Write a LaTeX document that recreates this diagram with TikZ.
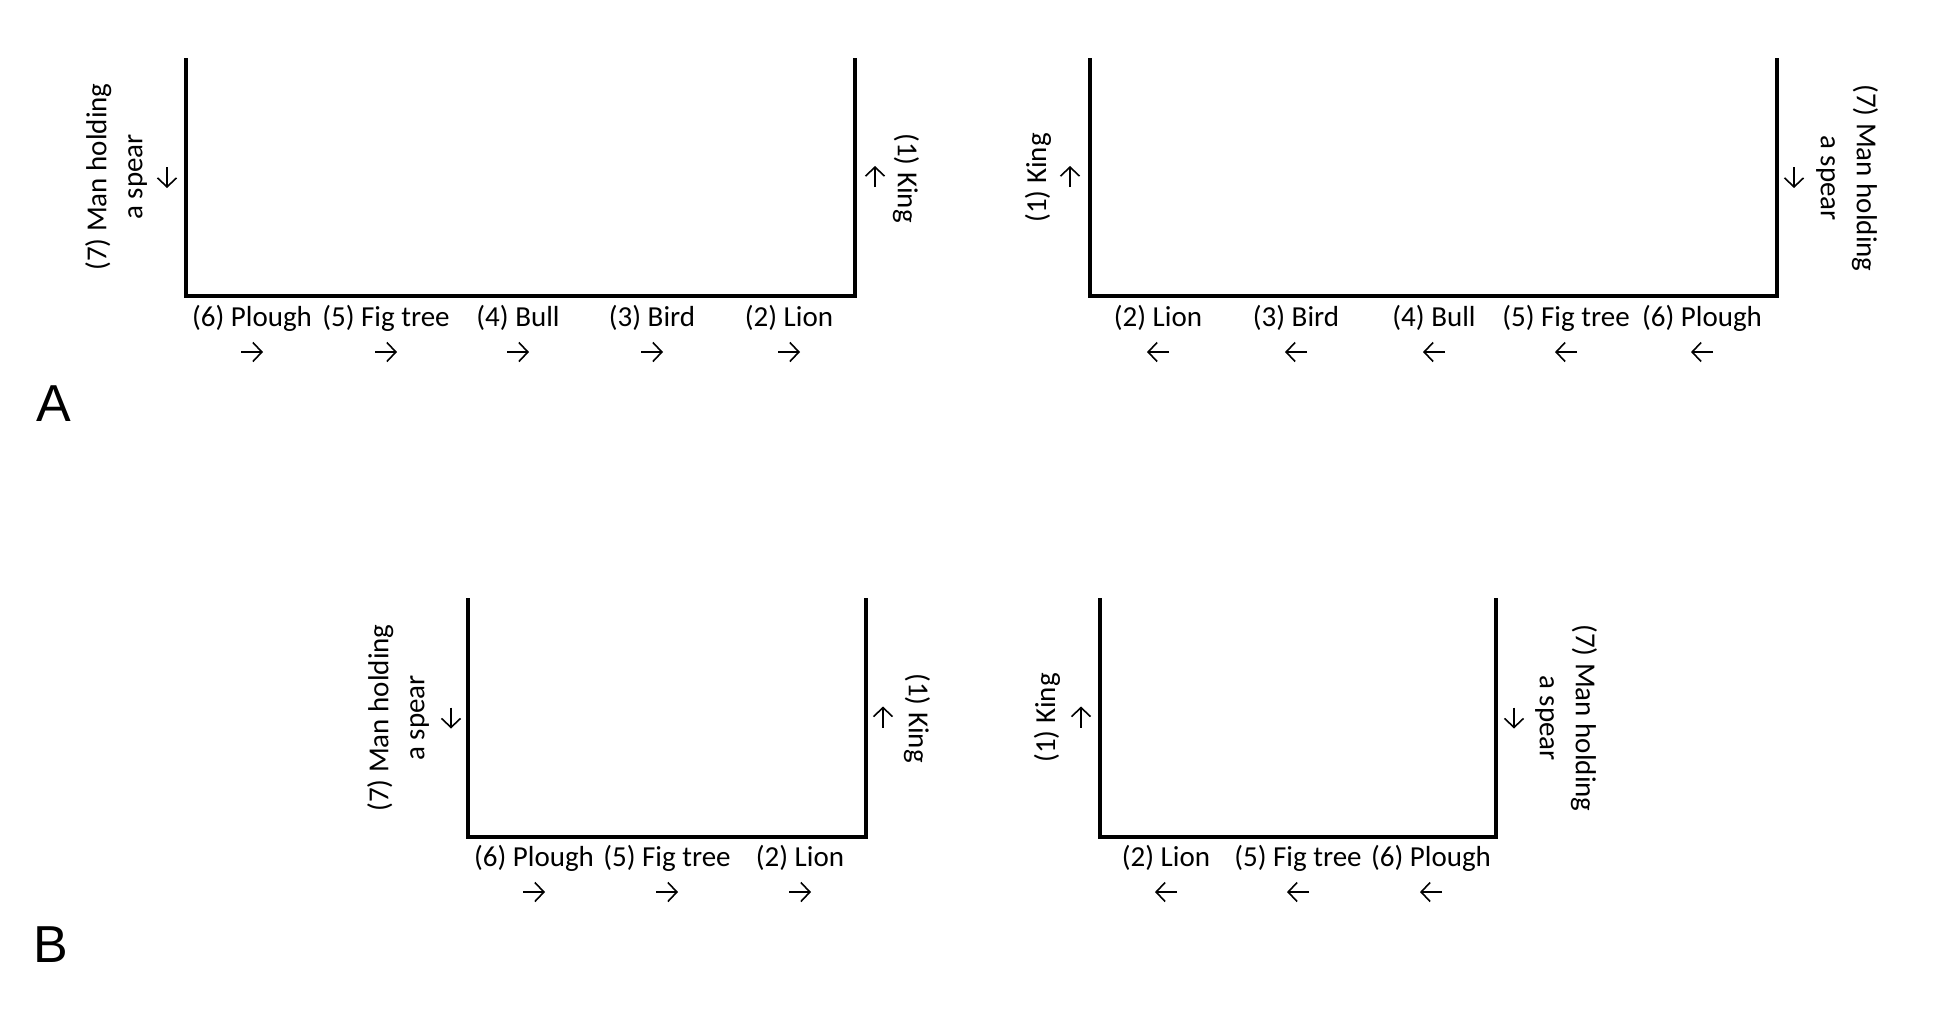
\documentclass[tikz,border=0pt]{standalone}
\usepackage{fontspec}
\setmainfont{Carlito}
\newfontfamily\letterfont{Liberation Sans}
\usetikzlibrary{arrows.meta,calc}
\begin{document}
\begin{tikzpicture}[x=1pt,y=-1pt,
  frame/.style={line width=3.2pt, line join=miter},
  lbl/.style={font=\fontsize{29}{36}\selectfont, inner sep=0pt, anchor=base},
  side/.style={font=\fontsize{29}{36}\selectfont, inner sep=0pt, align=center},
  dirarrow/.style={line width=1.6pt, -{Straight Barb[length=9pt,width=19pt]}},
  panelletter/.style={font=\letterfont\fontsize{52}{60}\selectfont, inner sep=0pt}]
\useasboundingbox (0,0) rectangle (1946,1034);

% ---------- Panel A, left ----------
\coordinate (a1tl) at (186,58);
\coordinate (a1bl) at (186,296);
\coordinate (a1br) at (855,296);
\coordinate (a1tr) at (855,58);
\draw[frame] (a1tl) -- (a1bl) -- (a1br) -- (a1tr);
\node[lbl] (a1l6) at (252,326) {(6) Plough};
\node[lbl] (a1l5) at (386,326) {(5) Fig tree};
\node[lbl] (a1l4) at (518,326) {(4) Bull};
\node[lbl] (a1l3) at (652,326) {(3) Bird};
\node[lbl] (a1l2) at (789,326) {(2) Lion};
\foreach \n in {a1l6,a1l5,a1l4,a1l3,a1l2}
  \draw[dirarrow] ([xshift=-11pt,yshift=-26pt]\n.base) -- ([xshift=11pt,yshift=-26pt]\n.base);
\node[side, rotate=90] (a1s7) at (116,177) {(7) Man holding\\a spear};
\draw[dirarrow] ($(a1tl)!0.5!(a1bl)+(-19,-10)$) -- ++(0,21);
\node[side, rotate=-90] (a1s1) at (906,178) {(1) King};
\draw[dirarrow] ($(a1tr)!0.5!(a1br)+(20,10)$) -- ++(0,-21);

% ---------- Panel A, right ----------
\coordinate (a2tl) at (1090,58);
\coordinate (a2bl) at (1090,296);
\coordinate (a2br) at (1777,296);
\coordinate (a2tr) at (1777,58);
\draw[frame] (a2tl) -- (a2bl) -- (a2br) -- (a2tr);
\node[lbl] (a2l2) at (1158,326) {(2) Lion};
\node[lbl] (a2l3) at (1296,326) {(3) Bird};
\node[lbl] (a2l4) at (1434,326) {(4) Bull};
\node[lbl] (a2l5) at (1566,326) {(5) Fig tree};
\node[lbl] (a2l6) at (1702,326) {(6) Plough};
\foreach \n in {a2l2,a2l3,a2l4,a2l5,a2l6}
  \draw[dirarrow] ([xshift=11pt,yshift=-26pt]\n.base) -- ([xshift=-11pt,yshift=-26pt]\n.base);
\node[side, rotate=90] (a2s1) at (1038,178) {(1) King};
\draw[dirarrow] ($(a2tl)!0.5!(a2bl)+(-20,10)$) -- ++(0,-21);
\node[side, rotate=-90] (a2s7) at (1847,178) {(7) Man holding\\a spear};
\draw[dirarrow] ($(a2tr)!0.5!(a2br)+(17,-10)$) -- ++(0,21);

% ---------- Panel B, left ----------
\coordinate (b1tl) at (468,598);
\coordinate (b1bl) at (468,837);
\coordinate (b1br) at (866,837);
\coordinate (b1tr) at (866,598);
\draw[frame] (b1tl) -- (b1bl) -- (b1br) -- (b1tr);
\node[lbl] (b1l6) at (534,866) {(6) Plough};
\node[lbl] (b1l5) at (667,866) {(5) Fig tree};
\node[lbl] (b1l2) at (800,866) {(2) Lion};
\foreach \n in {b1l6,b1l5,b1l2}
  \draw[dirarrow] ([xshift=-11pt,yshift=-26pt]\n.base) -- ([xshift=11pt,yshift=-26pt]\n.base);
\node[side, rotate=90] (b1s7) at (398,718) {(7) Man holding\\a spear};
\draw[dirarrow] ($(b1tl)!0.5!(b1bl)+(-17,-10)$) -- ++(0,21);
\node[side, rotate=-90] (b1s1) at (917,718) {(1) King};
\draw[dirarrow] ($(b1tr)!0.5!(b1br)+(17,10)$) -- ++(0,-21);

% ---------- Panel B, right ----------
\coordinate (b2tl) at (1100,598);
\coordinate (b2bl) at (1100,837);
\coordinate (b2br) at (1496,837);
\coordinate (b2tr) at (1496,598);
\draw[frame] (b2tl) -- (b2bl) -- (b2br) -- (b2tr);
\node[lbl] (b2l2) at (1166,866) {(2) Lion};
\node[lbl] (b2l5) at (1298,866) {(5) Fig tree};
\node[lbl] (b2l6) at (1431,866) {(6) Plough};
\foreach \n in {b2l2,b2l5,b2l6}
  \draw[dirarrow] ([xshift=11pt,yshift=-26pt]\n.base) -- ([xshift=-11pt,yshift=-26pt]\n.base);
\node[side, rotate=90] (b2s1) at (1047,718) {(1) King};
\draw[dirarrow] ($(b2tl)!0.5!(b2bl)+(-19,10)$) -- ++(0,-21);
\node[side, rotate=-90] (b2s7) at (1566,718) {(7) Man holding\\a spear};
\draw[dirarrow] ($(b2tr)!0.5!(b2br)+(18,-10)$) -- ++(0,21);

% ---------- Panel letters ----------
\node[panelletter] (letA) at (54,404) {A};
\node[panelletter] (letB) at (51,945) {B};
\end{tikzpicture}
\end{document}
